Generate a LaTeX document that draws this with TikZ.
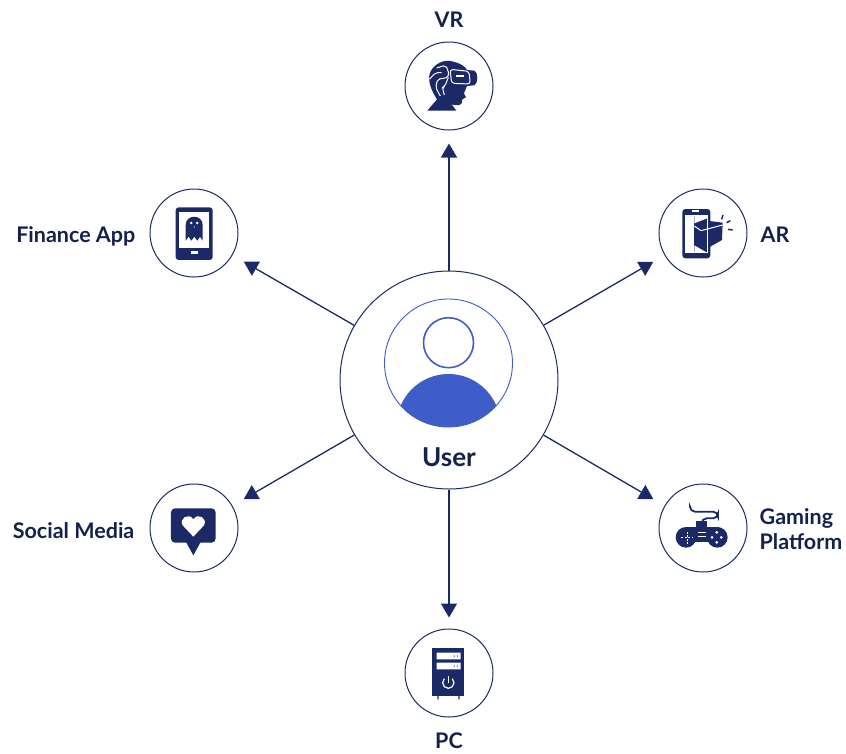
\documentclass[tikz,border=0pt]{standalone}
\usepackage{fontspec}
\setmainfont{Lato}
\usetikzlibrary{arrows.meta,positioning}
\definecolor{navy}{HTML}{1B2A66}
\definecolor{inkblue}{HTML}{14214F}
\definecolor{userblue}{HTML}{3F5DC8}
\tikzset{
	satnode/.style={circle,draw=navy,line width=1pt,minimum size=88pt,inner sep=0pt},
	arrowline/.style={draw=navy,line width=1.3pt,-{Triangle[length=14pt,width=16pt]},shorten >=13pt},
	lbl/.style={text=inkblue,font=\fontsize{21.5}{24.5}\selectfont\bfseries,inner sep=0pt,align=left},
	cut/.style={draw=white,line width=1pt}
}
\begin{document}
\begin{tikzpicture}[x=1pt,y=-1pt]
	\useasboundingbox (0,0) rectangle (846,753);
	
	%User in the middle
	\node[circle,draw=navy,line width=1pt,minimum size=218pt,inner sep=0pt] (user) at (449,380) {};
	\begin{scope}
		\clip (448.5,363) circle (64);
		\fill[userblue] (448.5,426) circle (52);
	\end{scope}
	\draw[userblue,line width=0.9pt] (448.5,363) circle (64);
	\draw[userblue,line width=1.6pt] (448.5,342.7) circle (25);
	\node[lbl,font=\fontsize{26}{30}\selectfont\bfseries] (userlabel) at (449,457) {User};
	
	%The six targets
	\node[satnode] (vr) at (449,86) {};
	\node[satnode] (finance) at (194,233) {};
	\node[satnode] (ar) at (703,233) {};
	\node[satnode] (social) at (194,528) {};
	\node[satnode] (gaming) at (703,528) {};
	\node[satnode] (pc) at (449,673) {};
	
	\node[lbl,above=14pt of vr] (vrlabel) {VR};
	\node[lbl,left=14pt of finance,yshift=-3pt] (financelabel) {Finance App};
	\node[lbl,right=13pt of ar,yshift=-2pt] (arlabel) {AR};
	\node[lbl,left=15pt of social,yshift=-3pt] (sociallabel) {Social Media};
	\node[lbl,right=12pt of gaming,yshift=-1pt] (gaminglabel) {Gaming\\Platform};
	\node[lbl,below=15pt of pc] (pclabel) {PC};
	
	\draw[arrowline] (user) -- (vr);
	\draw[arrowline] (user) -- (finance);
	\draw[arrowline] (user) -- (ar);
	\draw[arrowline] (user) -- (social);
	\draw[arrowline] (user) -- (gaming);
	\draw[arrowline,shorten >=11pt] (user) -- (pc);
	
	%VR icon
	\begin{scope}[shift={(395,0)},scale=0.3333]
		\fill[navy] (97,332) -- (126,298) .. controls (108,270) and (96,240) .. (106,216)
			.. controls (118,190) and (150,176) .. (175,185) .. controls (195,190) and (210,198) .. (216,210)
			-- (238,212) .. controls (250,216) and (250,250) .. (238,256) -- (216,258)
			-- (207,280) -- (213,292) -- (202,298) -- (200,310) .. controls (195,318) and (180,316) .. (170,313)
			-- (184,332) -- cycle;
		\draw[cut,rounded corners=3pt] (165,208) -- (222,214) -- (226,252) -- (170,250) -- cycle;
		\draw[cut,rounded corners=2pt] (125,204) -- (150,196) -- (160,210) -- (160,232) -- (128,238) -- (122,262) -- (136,288);
		\draw[cut,rounded corners=2pt] (160,232) -- (150,258) -- (142,262) -- (148,285);
		\draw[cut,rounded corners=2pt] (103,238) -- (122,218) -- (140,218);
		\fill[white] (184,225) rectangle (208,232);
	\end{scope}
	
	%Finance icon
	\begin{scope}[shift={(140,180)},scale=0.3333]
		\fill[navy,rounded corners=3pt] (107,82) rectangle (218,240);
		\fill[white] (118,97) rectangle (208,205);
		\fill[white] (152,212) rectangle (174,222);
		\fill[navy] (137,182) -- (137,135) .. controls (137,102) and (188,102) .. (188,135) -- (188,182)
			-- (180,170) -- (172,182) -- (163,170) -- (154,182) -- (146,170) -- cycle;
		\fill[white] (154,129) circle (4) (172,129) circle (4) (163,141) circle (2);
	\end{scope}
	
	%AR icon
	\begin{scope}[shift={(650,180)},scale=0.3333]
		\fill[navy,rounded corners=3pt] (97,87) rectangle (181,235);
		\fill[navy] (170,122) -- (218,128) -- (216,180) -- (170,206) -- cycle;
		\fill[white] (127,91) rectangle (147,95);
		\draw[white,line width=1pt] (107,107) -- (171,107) -- (171,218) -- (107,218) -- cycle;
		\fill[white] (107,107) rectangle (133,218);
		\fill[white] (133,130) -- (171,115) -- (171,107) -- (133,107) -- cycle;
		\fill[white] (133,196) -- (171,218) -- (133,218) -- cycle;
		\draw[cut] (133,138) -- (153,152) -- (218,135);
		\draw[navy,line width=1.5pt] (215,118) -- (219,105);
		\draw[navy,line width=1.5pt] (230,128) -- (241,122);
		\draw[navy,line width=1.5pt] (234,148) -- (248,150);
	\end{scope}
	
	%Social media icon
	\begin{scope}[shift={(140,480)},scale=0.3333]
		\fill[navy,rounded corners=4pt] (93,85) rectangle (227,188);
		\fill[navy] (138,186) -- (160,226) -- (182,186) -- cycle;
		\fill[white] (160,170) -- (128,136) .. controls (116,116) and (146,96) .. (160,118)
			.. controls (174,96) and (204,116) .. (192,136) -- cycle;
	\end{scope}
	
	%Gaming icon
	\begin{scope}[shift={(650,480)},scale=0.3333]
		\draw[navy,line width=1.8pt,rounded corners=5pt] (120,82) -- (120,95) -- (204,95) -- (204,115) -- (155,115) -- (155,125);
		\fill[navy] (139,122) rectangle (171,142);
		\fill[navy] (108,140) rectangle (202,186);
		\fill[navy] (108,172) circle (31) (202,172) circle (31);
		\draw[white,line width=1.2pt,dash pattern=on 2pt off 1.5pt] (94,172) -- (130,172) (112,155) -- (112,192);
		\draw[white,line width=1.4pt] (145,158) -- (168,158) (145,170) -- (168,170);
		\fill[white] (200,157) circle (4.5) (214,172) circle (4.5) (200,187) circle (4.5) (186,172) circle (4.5);
	\end{scope}
	
	%PC icon
	\begin{scope}[shift={(395,620)},scale=0.3333]
		\fill[navy] (112,83) rectangle (208,227);
		\fill[navy] (127,227) rectangle (131,238) (190,227) rectangle (194,238);
		\fill[white] (125,98) rectangle (197,118) (125,128) rectangle (197,148);
		\fill[navy] (178,108) circle (2) (187,108) circle (2) (178,138) circle (2) (187,138) circle (2);
		\draw[white,line width=1.2pt] (172,176) arc[start angle=-45,end angle=225,radius=17];
		\draw[white,line width=1.2pt] (160,168) -- (160,188);
	\end{scope}
\end{tikzpicture}
\end{document}
